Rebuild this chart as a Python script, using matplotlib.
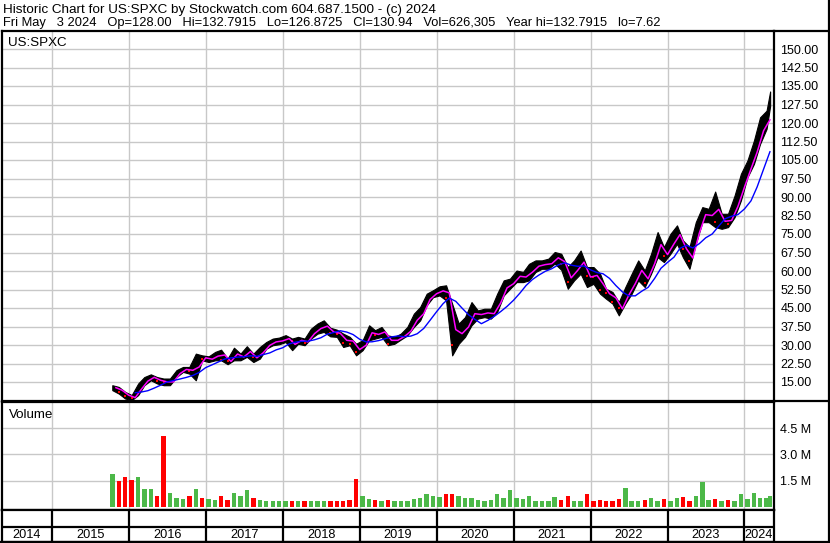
import numpy as np
import pandas as pd
import matplotlib
matplotlib.use('Agg')
import matplotlib.pyplot as plt
from matplotlib.ticker import FuncFormatter

plt.rcParams['font.family'] = ['Liberation Sans', 'DejaVu Sans']

# monthly price data for US:SPXC, Oct 2015 .. May 2024 (May is partial)
high = [13.7, 13.0, 11.0,
        9.7, 14.4, 17.0, 18.1, 17.0, 16.4, 16.4, 19.8, 21.1, 21.1, 26.5, 25.8,
        25.4, 27.2, 28.1, 24.5, 28.9, 26.5, 29.5, 26.5, 29.2, 31.2, 32.6, 33.0,
        34.0, 32.6, 33.3, 32.6, 36.6, 38.7, 40.0, 37.0, 36.2, 34.6, 33.3, 30.5,
        31.9, 38.0, 36.0, 37.3, 33.9, 33.3, 34.6, 37.3, 42.7, 45.4, 50.8, 52.2,
        53.8, 54.2, 46.7, 38.7, 41.3, 47.4, 44.0, 44.7, 44.7, 50.8, 56.2, 56.9,
        60.2, 59.6, 62.9, 64.3, 64.3, 65.0, 67.7, 67.0, 61.6, 64.3, 68.3, 61.6,
        61.6, 58.9, 52.8, 51.5, 47.4, 53.5, 58.9, 64.3, 60.2, 67.0, 75.8, 69.7,
        75.1, 78.5, 72.4, 69.7, 79.8, 85.9, 85.2, 92.2, 83.2, 83.2, 90.6, 99.4,
        104.8, 112.9, 122.3, 125.0, 132.79]
low = [11.7, 10.3, 8.3,
       7.62, 9.7, 13.7, 15.7, 14.4, 13.7, 13.7, 17.0, 19.1, 18.4, 15.7, 23.8,
       23.1, 23.8, 23.8, 22.2, 23.8, 23.8, 25.2, 23.1, 24.5, 28.5, 29.9, 30.3,
       31.2, 27.9, 30.5, 29.9, 32.6, 34.6, 35.3, 33.5, 33.3, 29.2, 29.9, 25.8,
       27.9, 31.9, 32.6, 33.3, 29.9, 30.5, 32.2, 33.9, 37.3, 40.0, 46.1, 49.4,
       50.1, 48.1, 25.8, 30.5, 33.3, 38.0, 40.7, 41.3, 40.7, 43.4, 50.1, 52.8,
       55.5, 55.5, 56.2, 59.6, 60.9, 60.9, 63.0, 60.5, 52.8, 56.2, 58.9, 53.5,
       54.8, 50.8, 48.8, 46.8, 42.0, 46.8, 50.8, 56.2, 53.5, 58.9, 65.6, 63.6,
       67.0, 71.0, 65.6, 60.9, 71.0, 79.8, 79.8, 77.8, 77.1, 77.8, 81.8, 88.6,
       98.0, 103.4, 111.5, 117.6, 126.87]
close = [12.5, 11.0, 9.3,
         8.5, 13.5, 15.5, 16.5, 15.5, 15.0, 15.5, 19.0, 20.0, 19.5, 25.0, 24.5,
         24.5, 26.5, 24.0, 23.5, 24.5, 25.0, 28.5, 25.0, 29.0, 30.5, 31.5, 31.5,
         33.0, 31.5, 32.0, 31.0, 35.5, 37.0, 37.5, 35.0, 34.5, 31.0, 30.5, 27.0,
         30.5, 35.0, 34.0, 35.5, 30.5, 32.5, 33.5, 36.5, 41.0, 44.0, 48.5, 51.0,
         52.0, 49.0, 30.0, 35.0, 38.0, 41.0, 42.5, 43.5, 44.0, 46.0, 53.5, 54.5,
         57.0, 58.0, 59.5, 61.5, 62.5, 63.5, 65.5, 63.0, 55.5, 61.5, 62.0, 58.0,
         57.5, 52.5, 51.0, 47.5, 45.0, 50.0, 56.0, 60.5, 55.0, 65.0, 68.0, 66.0,
         72.0, 74.0, 69.0, 64.0, 78.0, 83.0, 83.0, 80.0, 80.0, 79.0, 88.0, 99.0,
         103.0, 112.0, 119.0, 120.0, 130.94]
# volume, millions
volume = [1.9, 1.5, 1.7,
          1.55, 1.7, 1.0, 1.0, 0.6, 4.06, 0.8, 0.5, 0.45, 0.6, 1.0, 0.5,
          0.45, 0.4, 0.6, 0.4, 0.8, 0.6, 0.96, 0.5, 0.4, 0.35, 0.3, 0.35,
          0.3, 0.35, 0.3, 0.35, 0.3, 0.35, 0.3, 0.3, 0.35, 0.3, 0.4, 1.58,
          0.6, 0.45, 0.4, 0.35, 0.4, 0.35, 0.3, 0.35, 0.45, 0.5, 0.7, 0.6,
          0.55, 0.7, 0.75, 0.6, 0.5, 0.5, 0.4, 0.35, 0.4, 0.75, 0.5, 0.94,
          0.5, 0.45, 0.6, 0.35, 0.3, 0.35, 0.55, 0.4, 0.6, 0.35, 0.35, 0.71,
          0.3, 0.4, 0.35, 0.3, 0.45, 1.1, 0.35, 0.35, 0.4, 0.5, 0.35, 0.45,
          0.3, 0.5, 0.55, 0.3, 0.6, 1.4, 0.4, 0.45, 0.3, 0.4, 0.35, 0.71,
          0.45, 0.77, 0.5, 0.48, 0.6]

price_ticks = np.arange(15, 150.01, 7.5)
vol_ticks = [1.5, 3.0, 4.5]
years = list(range(2014, 2025))
header1 = 'Historic Chart for US:SPXC by Stockwatch.com 604.687.1500 - (c) 2024'
header2 = ('Fri May   3 2024   Op=128.00   Hi=132.7915   Lo=126.8725   '
           'Cl=130.94   Vol=626,305   Year hi=132.7915   lo=7.62')


def fy(d):
    return d.year + (d.dayofyear - 1) / (366 if d.is_leap_year else 365)


months = pd.date_range('2015-10-01', '2024-05-01', freq='MS')
x = np.array([fy(m + pd.Timedelta(days=14)) for m in months])
x[-1] = fy(pd.Timestamp('2024-05-02'))
x_end = np.array([fy(m + pd.offsets.MonthBegin(1)) for m in months])

hi = np.array(high)
lo = np.array(low)
cl = np.array(close)
mid = pd.Series((hi + lo) / 2)
# moving averages (complete months only)
ma_short = mid[:-1]
ma_long = mid[:-1].rolling(5, min_periods=4).mean()
down = np.r_[False, cl[1:] < cl[:-1]]

W, H = 830, 543
XL = (2014.347, 2024.377)


def rect(x0, y0, x1, y1):
    return [x0 / W, 1 - y1 / H, (x1 - x0) / W, (y1 - y0) / H]


fig = plt.figure(figsize=(W / 100, H / 100), dpi=100)
fig.patch.set_facecolor('white')

# price pane
ax = fig.add_axes(rect(1.5, 30.5, 773.5, 400.5))
ax.set_xlim(XL)
ax.set_ylim(7.5, 157.5)
ax.fill_between(x, lo, hi, color='black', lw=0.8, zorder=3)
ax.scatter(x[down], cl[down], marker='s', s=3, color='red', lw=0, zorder=4)
ax.plot(x_end[:-1], ma_short, color='#ff00ff', lw=1.1, zorder=5)
ax.plot(x_end[:-1], ma_long, color='#0000ff', lw=1.0, zorder=5)
ax.set_yticks(price_ticks)
ax.set_xticks(years[1:])
ax.grid(color='#c8c8c8', lw=1)
ax.set_axisbelow(True)
ax.yaxis.set_major_formatter(FuncFormatter(lambda v, p: f'{v:.2f}'))
ax.tick_params(axis='y', left=False, right=False, labelleft=False,
               labelright=True, length=0, pad=5, labelsize=9)
ax.tick_params(axis='x', bottom=False, labelbottom=False)
for s in ax.spines.values():
    s.set_linewidth(1.6)

# volume pane
axv = fig.add_axes(rect(1.5, 401.5, 773.5, 509.5))
axv.set_xlim(XL)
axv.set_ylim(-0.16, 6.03)
cols = np.where(down, '#ff0000', '#4cb848')
axv.bar(x, volume, width=0.058, color=cols, zorder=3)
axv.set_yticks(vol_ticks)
axv.set_xticks(years[1:])
axv.grid(color='#c8c8c8', lw=1)
axv.set_axisbelow(True)
axv.yaxis.set_major_formatter(FuncFormatter(lambda v, p: f'{v:.1f} M'))
axv.tick_params(axis='y', left=False, right=False, labelleft=False,
                labelright=True, length=0, pad=5, labelsize=9)
axv.tick_params(axis='x', bottom=False, labelbottom=False)
for s in axv.spines.values():
    s.set_linewidth(1.6)

# year strip
axy = fig.add_axes(rect(1.5, 509.5, 773.5, 541.5))
axy.set_xlim(XL)
axy.set_ylim(32, 0)
axy.set_xticks([])
axy.set_yticks([])
axy.vlines(years[1:], 0, 32, color='black', lw=1.6)
axy.axhline(17.5, color='black', lw=1.6)
edges = [XL[0]] + years[1:] + [XL[1]]
for i, yr in enumerate(years):
    axy.text((edges[i] + edges[i + 1]) / 2, 25, str(yr), ha='center',
             va='center', fontsize=9.2)
for s in axy.spines.values():
    s.set_linewidth(1.6)

# overlay for header text and frame
ov = fig.add_axes([0, 0, 1, 1])
ov.set_xlim(0, W)
ov.set_ylim(H, 0)
ov.axis('off')
ov.patch.set_alpha(0)
ov.text(3, 12.5, header1, fontsize=9.7, va='baseline')
ov.text(3, 26, header2, fontsize=9.3, va='baseline')
ov.text(8, 46.5, 'US:SPXC', fontsize=9.6, va='baseline')
ov.text(9, 418, 'Volume', fontsize=9.6, va='baseline')
ov.plot([773.5, 829], [30.5, 30.5], color='black', lw=1.6)
ov.plot([773.5, 829], [401, 401], color='black', lw=1.6)
ov.plot([828.5, 828.5], [0, 542], color='black', lw=1.6)
ov.plot([0, 829], [541.5, 541.5], color='black', lw=1.6)

fig.savefig('out.png', dpi=100)
